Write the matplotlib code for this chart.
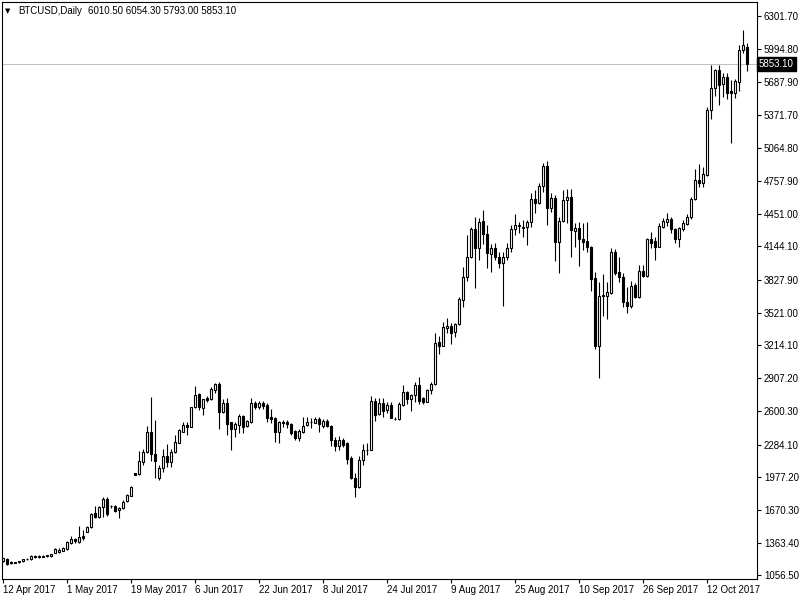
import matplotlib
matplotlib.use("Agg")
import matplotlib.pyplot as plt
import matplotlib.transforms as mtransforms
import numpy as np

plt.rcParams['font.family'] = ['Liberation Sans', 'DejaVu Sans']

# daily BTCUSD candles (bar 0 = 12 Apr 2017)
opens = [1195, 1211, 1186, 1178, 1180, 1189, 1208, 1211, 1236, 1230,
         1234, 1236, 1236, 1270, 1280, 1290, 1302, 1358, 1400, 1371,
         1427, 1467, 1514, 1640, 1608, 1696, 1771, 1705, 1708, 1671,
         1687, 1755, 1805, 2015, 2008, 2124, 2212, 2400, 2193, 1974,
         2062, 2180, 2124, 2212, 2302, 2405, 2468, 2452, 2634, 2759,
         2624, 2724, 2712, 2796, 2850, 2587, 2672, 2493, 2430, 2468,
         2555, 2459, 2499, 2677, 2640, 2677, 2656, 2546, 2531, 2400,
         2499, 2499, 2477, 2412, 2349, 2405, 2468, 2493, 2490, 2524,
         2461, 2505, 2459, 2327, 2274, 2327, 2296, 2156, 1968, 1889,
         2140, 2230, 2234, 2693, 2568, 2677, 2609, 2656, 2522, 2522,
         2655, 2775, 2709, 2749, 2843, 2718, 2687, 2796, 2850, 3244,
         3212, 3381, 3397, 3337, 3415, 3640, 3853, 4041, 4307, 4131,
         4382, 4257, 4072, 4126, 4047, 3985, 4047, 4126, 4309, 4332,
         4328, 4322, 4372, 4585, 4553, 4710, 4897, 4501, 4595, 4187,
         4382, 4579, 4604, 4291, 4313, 4210, 4191, 4135, 3844, 3212,
         3681, 3681, 3703, 4088, 3903, 3853, 3619, 3587, 3781, 3666,
         3915, 3866, 4210, 4191, 4140, 4328, 4375, 4400, 4306, 4213,
         4306, 4353, 4416, 4588, 4766, 4735, 4813, 5423, 5626, 5798,
         5667, 5730, 5604, 5585, 5688, 5986, 6010.5]
highs = [1225, 1218, 1190, 1183, 1193, 1215, 1222, 1248, 1245, 1245,
         1247, 1252, 1262, 1311, 1312, 1320, 1380, 1427, 1412, 1521,
         1483, 1525, 1640, 1708, 1710, 1796, 1796, 1720, 1718, 1700,
         1760, 1820, 1895, 2020, 2227, 2243, 2459, 2728, 2515, 2093,
         2243, 2290, 2243, 2374, 2430, 2493, 2493, 2640, 2837, 2766,
         2715, 2743, 2827, 2865, 2870, 2709, 2718, 2500, 2499, 2571,
         2565, 2515, 2724, 2696, 2690, 2690, 2670, 2615, 2540, 2508,
         2515, 2515, 2490, 2420, 2431, 2540, 2540, 2531, 2540, 2540,
         2524, 2522, 2465, 2358, 2365, 2343, 2312, 2180, 2015, 2177,
         2290, 2296, 2740, 2718, 2718, 2718, 2681, 2681, 2540, 2681,
         2843, 2790, 2755, 2874, 2921, 2733, 2806, 2874, 3334, 3303,
         3437, 3475, 3428, 3425, 3672, 3947, 4250, 4328, 4416, 4407,
         4485, 4344, 4163, 4172, 4094, 4094, 4178, 4344, 4444, 4375,
         4391, 4391, 4647, 4672, 4741, 4923, 4944, 4647, 4625, 4422,
         4672, 4679, 4679, 4360, 4375, 4366, 4370, 4147, 3906, 3807,
         3884, 3812, 4131, 4119, 4041, 3897, 3765, 3819, 3797, 3969,
         3969, 4219, 4276, 4234, 4360, 4407, 4454, 4422, 4320, 4325,
         4391, 4447, 4610, 4869, 4916, 4891, 5448, 5845, 5805, 5845,
         5767, 5767, 5704, 5711, 6033, 6173, 6054.3]
lows = [1185, 1152, 1168, 1176, 1170, 1185, 1200, 1205, 1220, 1225,
        1228, 1230, 1232, 1265, 1270, 1285, 1298, 1350, 1365, 1365,
        1389, 1460, 1505, 1593, 1600, 1608, 1610, 1690, 1655, 1593,
        1680, 1750, 1800, 1995, 2000, 2093, 2205, 2133, 1974, 1952,
        2030, 2077, 2077, 2203, 2295, 2400, 2374, 2445, 2630, 2609,
        2562, 2687, 2705, 2766, 2428, 2578, 2374, 2234, 2358, 2390,
        2390, 2450, 2490, 2618, 2620, 2620, 2499, 2490, 2312, 2302,
        2452, 2437, 2374, 2327, 2318, 2390, 2460, 2443, 2485, 2405,
        2437, 2450, 2274, 2227, 2234, 2264, 2099, 1962, 1796, 1880,
        2093, 2187, 2230, 2508, 2560, 2546, 2578, 2531, 2515, 2515,
        2648, 2665, 2600, 2687, 2665, 2665, 2680, 2759, 2845, 3131,
        3205, 3334, 3228, 3296, 3410, 3578, 3822, 4035, 3750, 4012,
        4163, 3938, 3900, 4016, 3938, 3587, 4016, 4094, 4250, 4266,
        4234, 4156, 4328, 4454, 4545, 4656, 4344, 4463, 4009, 3897,
        4375, 4360, 4040, 4141, 3962, 4110, 4094, 3728, 3181, 2912,
        3493, 3460, 3695, 3875, 3812, 3572, 3516, 3563, 3656, 3660,
        3853, 3860, 4125, 4016, 4135, 4320, 4335, 4266, 4178, 4141,
        4291, 4345, 4400, 4580, 4703, 4703, 4805, 5336, 5554, 5470,
        5542, 5526, 5116, 5532, 5604, 5955, 5793.0]
closes = [1218, 1164, 1174, 1181, 1189, 1211, 1215, 1239, 1230, 1236,
          1238, 1245, 1258, 1302, 1300, 1315, 1373, 1399, 1380, 1415,
          1405, 1514, 1633, 1608, 1702, 1771, 1633, 1710, 1664, 1692,
          1749, 1812, 1889, 1999, 2133, 2212, 2400, 2196, 2133, 2068,
          2180, 2124, 2212, 2306, 2421, 2468, 2452, 2634, 2749, 2634,
          2709, 2702, 2806, 2850, 2587, 2672, 2475, 2433, 2475, 2555,
          2446, 2508, 2677, 2634, 2672, 2646, 2537, 2524, 2400, 2499,
          2484, 2475, 2396, 2343, 2412, 2461, 2499, 2499, 2522, 2475,
          2505, 2459, 2325, 2274, 2327, 2280, 2149, 1968, 1889, 2140,
          2234, 2238, 2693, 2562, 2677, 2602, 2656, 2537, 2527, 2665,
          2775, 2709, 2749, 2843, 2696, 2681, 2796, 2850, 3240, 3212,
          3390, 3397, 3328, 3415, 3650, 3853, 4041, 4307, 4131, 4375,
          4257, 4079, 4126, 4047, 3985, 4047, 4126, 4309, 4341, 4342,
          4319, 4372, 4585, 4553, 4710, 4897, 4501, 4595, 4187, 4382,
          4579, 4604, 4297, 4313, 4210, 4187, 4135, 3838, 3212, 3681,
          3687, 3713, 4088, 3897, 3853, 3619, 3587, 3775, 3666, 3915,
          3866, 4210, 4178, 4140, 4335, 4379, 4397, 4304, 4213, 4313,
          4360, 4422, 4588, 4766, 4735, 4822, 5423, 5626, 5798, 5657,
          5730, 5585, 5585, 5695, 5986, 6033, 5853.1]

date_labels = ["12 Apr 2017", "1 May 2017", "19 May 2017", "6 Jun 2017",
               "22 Jun 2017", "8 Jul 2017", "24 Jul 2017", "9 Aug 2017",
               "25 Aug 2017", "10 Sep 2017", "26 Sep 2017", "12 Oct 2017"]
price_labels = [6301.70, 5994.80, 5687.90, 5371.70, 5064.80, 4757.90,
                4451.00, 4144.10, 3827.90, 3521.00, 3214.10, 2907.20,
                2600.30, 2284.10, 1977.20, 1670.30, 1363.40, 1056.50]
bid = 5853.10

W, H = 800, 600
fig = plt.figure(figsize=(8, 6), dpi=100)
ax = fig.add_axes([2 / W, 21 / H, 755 / W, 577 / H])

x = np.arange(len(opens))
o = np.array(opens)
c = np.array(closes)
up = c >= o

ax.axhline(bid, color='#c0c0c0', lw=0.75, zorder=1)
ax.vlines(x, lows, highs, color='black', lw=0.8, zorder=2)
ax.bar(x[up], (c - o)[up], bottom=o[up], width=0.5, facecolor='white',
       edgecolor='black', linewidth=0.8, zorder=3)
ax.bar(x[~up], (o - c)[~up], bottom=c[~up], width=0.5, facecolor='black',
       edgecolor='black', linewidth=0.8, zorder=3)

ax.set_xlim(-0.25, 188.5)
ax.set_ylim(1023.6, 6435.8)

for s in ax.spines.values():
    s.set_linewidth(0.8)

ax.yaxis.tick_right()
ax.set_yticks(price_labels)
ax.set_yticklabels(["%.2f" % p for p in price_labels])
ax.tick_params(axis='y', direction='out', length=3, width=0.8, pad=2, labelsize=7)

ax.set_xticks(np.arange(0, 16 * len(date_labels), 16))
ax.set_xticklabels(date_labels, ha='left')
ax.tick_params(axis='x', direction='out', length=3, width=0.8, pad=1.5, labelsize=7)

trans = mtransforms.blended_transform_factory(ax.transAxes, ax.transData)
ax.text(1.0 + 2 / 755, bid, "5853.10", transform=trans, ha='left', va='center',
        color='white', fontsize=7,
        bbox=dict(boxstyle='square,pad=0.2', facecolor='black', edgecolor='black'))

fig.text(5 / W, 1 - 11 / H, "\u25bc", fontsize=5, va='center', ha='left',
         family=['DejaVu Sans'])
fig.text(18 / W, 1 - 11 / H, "BTCUSD,Daily", fontsize=7, va='center', ha='left')
fig.text(88 / W, 1 - 11 / H, "6010.50 6054.30 5793.00 5853.10", fontsize=7,
         va='center', ha='left')

fig.savefig("out.png", dpi=100)
